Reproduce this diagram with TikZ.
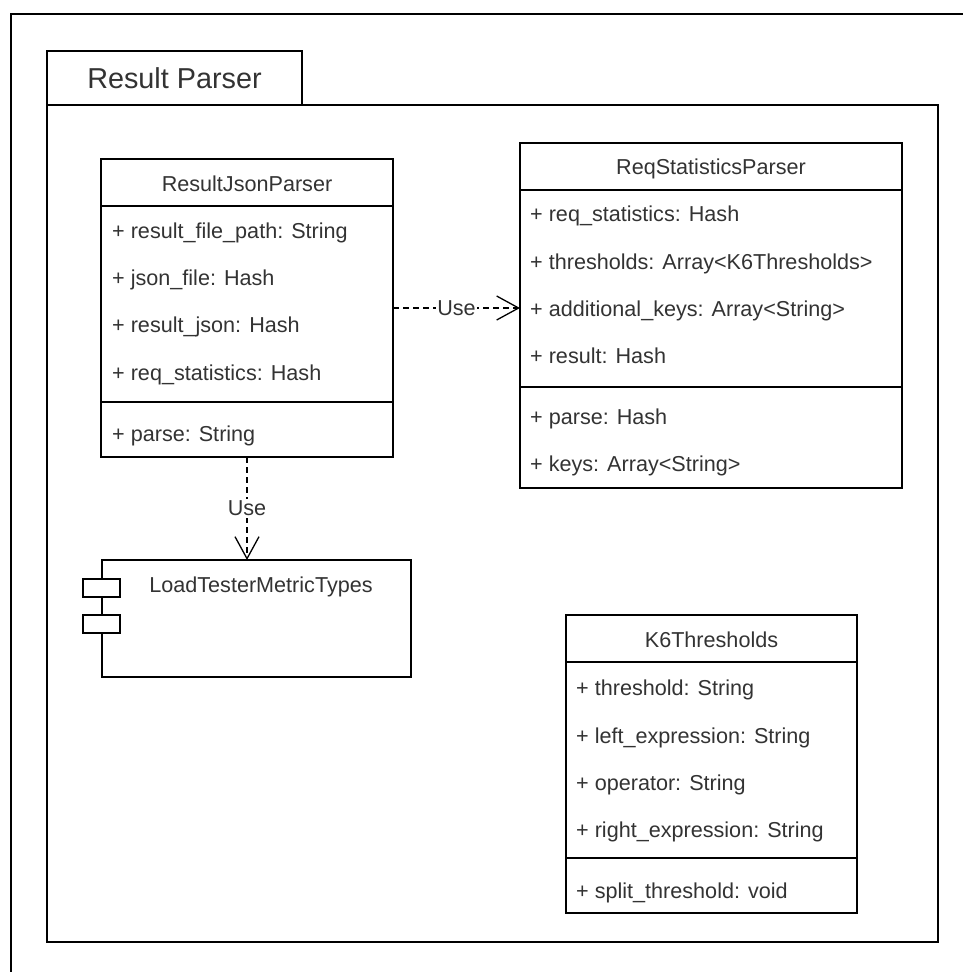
\documentclass[tikz,border=0pt]{standalone}
\usepackage{fontspec}
\setmainfont{Liberation Sans}
\usetikzlibrary{arrows.meta}
\definecolor{txt}{HTML}{333333}
\tikzset{
  box/.style={draw=black, line width=1.5pt, inner sep=0pt, outer sep=0pt, fill=white},
  sep/.style={draw=black, line width=1.5pt},
  attr/.style={anchor=base west, inner sep=0pt, text=txt, font=\fontsize{21.6}{24}\selectfont},
  title/.style={anchor=base, inner sep=0pt, text=txt, font=\fontsize{21.6}{24}\selectfont},
  uselink/.style={draw=black, line width=1.3pt, dash pattern=on 6pt off 4pt,
     -{Straight Barb[length=22pt, width=24pt, line width=1.3pt]}},
  uselabel/.style={fill=white, inner sep=1.5pt, text=txt, font=\fontsize{21.6}{24}\selectfont}
}
\begin{document}
\begin{tikzpicture}[x=1pt,y=-1pt]
\useasboundingbox (0,0) rectangle (963,972);
% outer frame (cropped)
\coordinate (fa) at (11,972);
\coordinate (fb) at (11,14);
\coordinate (fc) at (963,14);
\draw[line width=1.5pt] (fa) -- (fb) -- (fc);

% package
\node[box, minimum width=891pt, minimum height=837pt] (pkg) at (492.5,523.5) {};
\node[box, minimum width=255pt, minimum height=54pt] (tab) at (174.5,78) {};
\node[anchor=base, inner sep=0pt, text=txt, font=\fontsize{28.8}{32}\selectfont] (tabt) at (174.5,88.5) {Result Parser};

% ResultJsonParser
\node[box, minimum width=292pt, minimum height=298pt] (rjp) at (247,308) {};
\node[title] (rjpt) at (247,191) {ResultJsonParser};
\draw[sep] (rjp.west |- 0,206) -- (rjp.east |- 0,206);
\draw[sep] (rjp.west |- 0,402) -- (rjp.east |- 0,402);
\node[attr] (rjp1) at (112,238) {+ result\_file\_path: String};
\node[attr] (rjp2) at (112,285) {+ json\_file: Hash};
\node[attr] (rjp3) at (112,332) {+ result\_json: Hash};
\node[attr] (rjp4) at (112,380) {+ req\_statistics: Hash};
\node[attr] (rjp5) at (112,441) {+ parse: String};

% ReqStatisticsParser
\node[box, minimum width=382pt, minimum height=345pt] (rsp) at (711,315.5) {};
\node[title] (rspt) at (711,174) {ReqStatisticsParser};
\draw[sep] (rsp.west |- 0,190) -- (rsp.east |- 0,190);
\draw[sep] (rsp.west |- 0,387) -- (rsp.east |- 0,387);
\node[attr] (rsp1) at (530,221) {+ req\_statistics: Hash};
\node[attr] (rsp2) at (530,269) {+ thresholds: Array<K6Thresholds>};
\node[attr] (rsp3) at (530,316) {+ additional\_keys: Array<String>};
\node[attr] (rsp4) at (530,363) {+ result: Hash};
\node[attr] (rsp5) at (530,424) {+ parse: Hash};
\node[attr] (rsp6) at (530,471) {+ keys: Array<String>};

% LoadTesterMetricTypes component
\node[box, minimum width=309pt, minimum height=117pt] (ltm) at (256.5,618.5) {};
\node[box, line width=1.3pt, minimum width=37pt, minimum height=18pt] (ltmp1) at (101.5,588) {};
\node[box, line width=1.3pt, minimum width=37pt, minimum height=18pt] (ltmp2) at (101.5,624) {};
\node[title] (ltmt) at (261,592) {LoadTesterMetricTypes};

% K6Thresholds
\node[box, minimum width=291pt, minimum height=298pt] (k6) at (711.5,764) {};
\node[title] (k6t) at (711.5,647) {K6Thresholds};
\draw[sep] (k6.west |- 0,662) -- (k6.east |- 0,662);
\draw[sep] (k6.west |- 0,858) -- (k6.east |- 0,858);
\node[attr] (k61) at (576,695) {+ threshold: String};
\node[attr] (k62) at (576,743) {+ left\_expression: String};
\node[attr] (k63) at (576,790) {+ operator: String};
\node[attr] (k64) at (576,837) {+ right\_expression: String};
\node[attr] (k65) at (576,898) {+ split\_threshold: void};

% connectors
\draw[uselink] (rjp.east) -- node[uselabel] {Use} (rjp.east -| rsp.west);
\draw[uselink] (rjp.south) -- node[uselabel] {Use} (rjp.south |- ltm.north);
\end{tikzpicture}
\end{document}
